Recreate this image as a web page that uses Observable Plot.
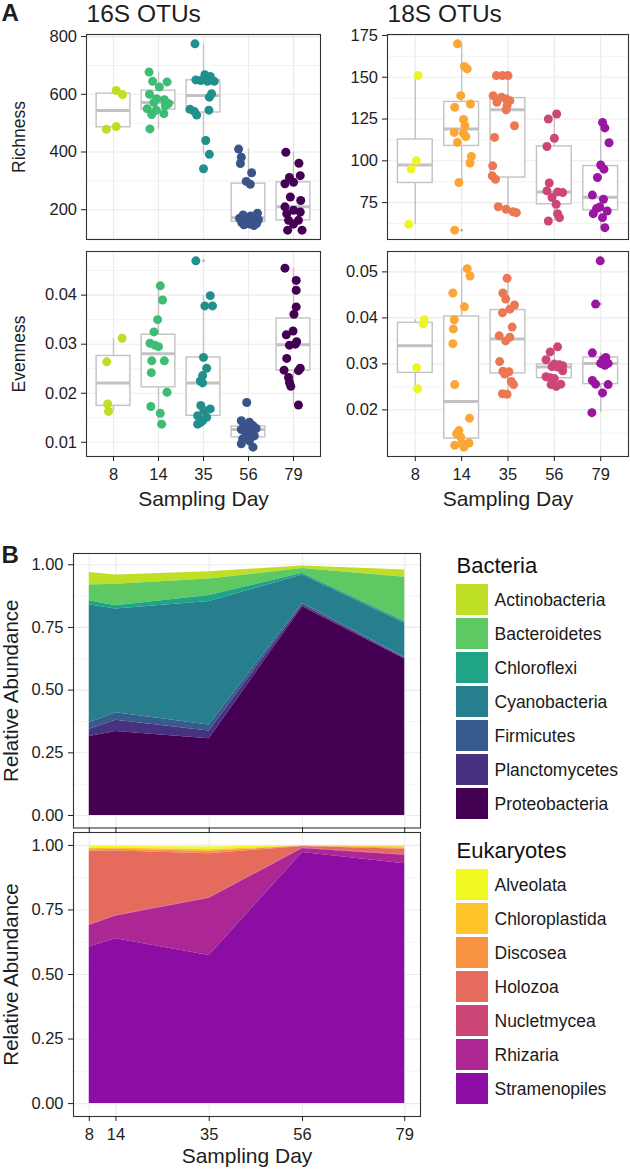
<!DOCTYPE html>
<html><head><meta charset="utf-8">
<script src="https://cdn.jsdelivr.net/npm/d3@7"></script>
<script src="https://cdn.jsdelivr.net/npm/@observablehq/plot@0.6"></script>
<style>
body{margin:0;background:#fff;}
#root{position:relative;width:630px;height:1170px;overflow:hidden;font-family:"Liberation Sans",Arial,Helvetica,sans-serif;}
#root svg{position:absolute;overflow:visible;}
</style></head><body><div id="root"></div>
<script>
// ---------- DATA ----------
const days = [8, 14, 35, 56, 79];
const dayIdx = [0, 1, 2, 3, 4];

// Panel A points: [day index, horizontal jitter, value]
const richness16S = [
  [0,0.06,613],[0,0.2,599],[0,-0.16,479],[0,0.06,488],
  [1,-0.21,677],[1,-0.13,645],[1,0.19,643],[1,0.02,625],[1,-0.2,600],[1,-0.04,585],[1,0.13,581],[1,-0.1,572],[1,0.22,568],[1,0.15,560],[1,-0.25,550],[1,-0.05,545],[1,0.12,533],[1,-0.15,530],[1,-0.19,480],
  [2,-0.19,775],[2,0.03,668],[2,0.15,662],[2,-0.17,650],[2,-0.06,648],[2,0.09,645],[2,0.24,645],[2,0.18,602],[2,0.13,590],[2,-0.3,548],[2,0.12,545],[2,-0.2,540],[2,-0.15,528],[2,0.05,440],[2,0.13,392],[2,0.0,342],
  [3,-0.22,410],[3,-0.16,382],[3,-0.18,360],[3,0.07,328],[3,-0.05,298],[3,0.04,288],[3,0.2,188],[3,-0.12,182],[3,0.05,178],[3,0.14,174],[3,-0.2,170],[3,0.0,168],[3,0.22,165],[3,-0.08,162],[3,0.1,159],[3,-0.15,155],[3,0.18,152],[3,0.03,150],[3,-0.1,148],[3,0.12,145],
  [4,-0.17,399],[4,0.12,361],[4,0.15,318],[4,-0.09,312],[4,0,295],[4,-0.19,290],[4,-0.07,244],[4,0.16,232],[4,-0.19,210],[4,0,198],[4,0.15,192],[4,-0.15,186],[4,-0.11,163],[4,0.11,163],[4,0,150],[4,-0.13,129],[4,0.19,129]
];
const richness18S = [
  [0,0.06,151],[0,0.02,100],[0,-0.09,95],[0,-0.14,62],
  [1,-0.09,170],[1,0.06,156.5],[1,0.12,155],[1,-0.02,139],[1,0.19,134],[1,-0.15,132],[1,0.04,124.7],[1,0.07,121],[1,-0.16,117],[1,0.04,116.5],[1,0.09,114.5],[1,-0.09,111],[1,0.21,102.6],[1,0.18,98.7],[1,-0.06,87],[1,-0.15,58.5],
  [2,-0.25,151],[2,-0.12,151],[2,0,151],[2,-0.32,139],[2,-0.14,138],[2,-0.04,137],[2,0.04,136],[2,-0.24,135],[2,-0.02,133],[2,-0.04,130.5],[2,0.14,121],[2,-0.29,114],[2,-0.33,97],[2,-0.34,91],[2,-0.27,89],[2,-0.21,72.5],[2,-0.04,71],[2,0.11,69.5],[2,0.18,69],
  [3,0.05,128],[3,-0.13,125],[3,0,113.5],[3,-0.16,108.6],[3,-0.11,86.7],[3,-0.16,82],[3,0.07,81.4],[3,0.18,81],[3,-0.05,78],[3,0.04,74],[3,0.07,68.4],[3,0.11,66],[3,-0.13,64],
  [4,0.04,123],[4,0.09,119.7],[4,0.18,110.8],[4,0,97.5],[4,0.07,95],[4,-0.07,90],[4,-0.18,79.5],[4,0.06,77],[4,-0.02,72.4],[4,-0.09,71.4],[4,0.14,70],[4,-0.16,68.4],[4,0.04,66],[4,0.09,60]
];
const evenness16S = [
  [0,0.19,0.0312],[0,-0.15,0.0264],[0,-0.13,0.0178],[0,-0.11,0.0163],
  [1,0.04,0.0419],[1,0.09,0.0390],[1,-0.02,0.0350],[1,-0.1,0.0325],[1,-0.19,0.0302],[1,-0.08,0.0298],[1,0.0,0.0295],[1,-0.15,0.0266],[1,0.13,0.0266],[1,-0.16,0.0242],[1,0.19,0.0202],[1,-0.17,0.0173],[1,0.04,0.0159],[1,0.07,0.0137],
  [2,-0.17,0.047],[2,0.15,0.0399],[2,0.03,0.0378],[2,0.2,0.0378],[2,0,0.0273],[2,0.07,0.0251],[2,-0.02,0.0236],[2,-0.07,0.0225],[2,-0.02,0.0221],[2,-0.06,0.0175],[2,0.15,0.0168],[2,0.01,0.0165],[2,-0.13,0.0154],[2,0.07,0.0151],[2,-0.02,0.0144],[2,-0.07,0.0140],[2,-0.13,0.0137],
  [3,-0.04,0.0181],[3,-0.16,0.0144],[3,0.02,0.0141],[3,0.1,0.0134],[3,-0.09,0.0130],[3,0.17,0.0128],[3,0,0.0127],[3,-0.16,0.0126],[3,0.06,0.0121],[3,-0.05,0.0115],[3,0.13,0.0113],[3,-0.13,0.0107],[3,0.02,0.0103],[3,-0.16,0.0097],[3,0.1,0.0090],
  [4,-0.19,0.0455],[4,0.06,0.0430],[4,0.06,0.0410],[4,0.06,0.0376],[4,0.01,0.0361],[4,-0.01,0.0327],[4,-0.16,0.0319],[4,0.07,0.0305],[4,-0.09,0.0298],[4,0.04,0.0300],[4,-0.15,0.0271],[4,0.15,0.0251],[4,-0.21,0.0247],[4,0.11,0.0246],[4,-0.11,0.0232],[4,-0.09,0.0222],[4,-0.06,0.0214],[4,0.11,0.0176]
];
const evenness18S = [
  [0,0.19,0.0396],[0,0.17,0.0387],[0,0.03,0.0292],[0,0.05,0.0246],
  [1,0.12,0.0507],[1,0.18,0.0491],[1,-0.19,0.0454],[1,0.06,0.0424],[1,-0.16,0.0396],[1,-0.18,0.0376],[1,-0.19,0.0344],[1,-0.15,0.0255],[1,0.17,0.0182],[1,-0.06,0.0155],[1,-0.11,0.0148],[1,-0.02,0.0141],[1,0.16,0.0128],[1,0.01,0.0127],[1,-0.15,0.0123],[1,0.05,0.0119],
  [2,-0.02,0.0486],[2,-0.11,0.0454],[2,-0.05,0.0441],[2,0.14,0.0428],[2,0.04,0.0419],[2,-0.12,0.0411],[2,0.09,0.0380],[2,-0.19,0.0361],[2,0.04,0.0358],[2,-0.05,0.0350],[2,-0.18,0.0305],[2,-0.11,0.0284],[2,0.02,0.0283],[2,-0.07,0.0278],[2,0.07,0.0262],[2,0.12,0.0255],[2,-0.12,0.0235],[2,-0.02,0.0234],
  [3,0.07,0.0337],[3,-0.09,0.0326],[3,-0.18,0.0309],[3,0,0.0300],[3,0.11,0.0298],[3,0.18,0.0296],[3,-0.05,0.0294],[3,0.07,0.0293],[3,0.18,0.0285],[3,-0.18,0.0272],[3,-0.09,0.0270],[3,0,0.0268],[3,0.14,0.0256],[3,-0.07,0.0255],[3,0.04,0.0251],
  [4,-0.01,0.0524],[4,-0.11,0.0430],[4,-0.18,0.0324],[4,0.11,0.0314],[4,0.05,0.0309],[4,0,0.0301],[4,0.16,0.0301],[4,0.09,0.0297],[4,-0.18,0.0264],[4,-0.11,0.0256],[4,0.16,0.0255],[4,0.04,0.0237],[4,-0.19,0.0194]
];
const colors16S = ["#bddf26", "#3dbc74", "#21908d", "#3b528b", "#440154"];
const colors18S = ["#eef527", "#fca636", "#ec7853", "#cc4778", "#9a15a1"];
const richness16STicks = [200, 400, 600, 800];
const richness18STicks = [75, 100, 125, 150, 175];
const evenness16STicks = [0.01, 0.02, 0.03, 0.04];
const evenness18STicks = [0.02, 0.03, 0.04, 0.05];

// Panel B: relative abundance per sampling day
const bacteriaTaxa = ["Actinobacteria","Bacteroidetes","Chloroflexi","Cyanobacteria","Firmicutes","Planctomycetes","Proteobacteria"];
const bacteriaColors = ["#bddf26","#5ec962","#20a486","#277f8e","#365c8d","#46327e","#440154"];
const actinobacteria = [0.050, 0.037, 0.029, 0.010, 0.029];
const bacteroidetes  = [0.063, 0.086, 0.066, 0.019, 0.176];
const chloroflexi    = [0.016, 0.013, 0.024, 0.007, 0.007];
const cyanobacteria  = [0.470, 0.413, 0.492, 0.113, 0.136];
const firmicutes     = [0.026, 0.030, 0.024, 0.006, 0.003];
const planctomycetes = [0.029, 0.045, 0.031, 0.008, 0.004];
const proteobacteria = [0.315, 0.335, 0.306, 0.832, 0.624];

const eukaryoteTaxa = ["Alveolata","Chloroplastida","Discosea","Holozoa","Nucletmycea","Rhizaria","Stramenopiles"];
const eukaryoteColors = ["#f0f921","#fdc328","#f89441","#e56b5d","#cc4678","#ac2694","#8b0da3"];
const alveolata      = [0.008, 0.006, 0.011, 0.002, 0.006];
const chloroplastida = [0.005, 0.005, 0.006, 0.001, 0.005];
const discosea       = [0.005, 0.007, 0.009, 0.001, 0.004];
const holozoa        = [0.285, 0.249, 0.171, 0.006, 0.021];
const nucletmycea    = [0.003, 0.002, 0.002, 0.002, 0.002];
const rhizaria       = [0.083, 0.089, 0.221, 0.015, 0.033];
const stramenopiles  = [0.607, 0.638, 0.574, 0.973, 0.929];

const abundanceTicks = [0, 0.25, 0.5, 0.75, 1];

// ---------- DRAWING ----------
const GRID = "#ebebeb", BOX = "#c2c2c2", INK = "#1e1e1e", BORDER = "#333";
const FONT = "'Liberation Sans', Arial, Helvetica, sans-serif";
const TICK_FS = 16.5;
const root = document.getElementById("root");
function place(svg, left, top) {
  svg.style.left = left + "px"; svg.style.top = top + "px";
  root.appendChild(svg);
}
const baseStyle = {background: "transparent", overflow: "visible", fontFamily: FONT, color: INK};

function boxPanel(o) {
  const vals = o.pts.map(p => p[2]);
  const [lo, hi] = d3.extent(vals), pad = 0.05 * (hi - lo);
  const stats = dayIdx.map(i => {
    const v = o.pts.filter(p => p[0] === i).map(p => p[2]).sort(d3.ascending);
    const q1 = d3.quantile(v, 0.25), med = d3.quantile(v, 0.5), q3 = d3.quantile(v, 0.75), r = 1.5 * (q3 - q1);
    const inside = v.filter(x => x >= q1 - r && x <= q3 + r);
    return {i, q1, med, q3, lo: d3.min(inside), hi: d3.max(inside), out: v.filter(x => x < q1 - r || x > q3 + r)};
  });
  const step = o.ticks[1] - o.ticks[0];
  const minor = [o.ticks[0] - step / 2, ...o.ticks.map(t => t + step / 2)].filter(t => t > lo - pad && t < hi + pad);
  const marks = [
    Plot.ruleY(minor, {stroke: GRID, strokeWidth: 0.6}),
    Plot.ruleY(o.ticks, {stroke: GRID, strokeWidth: 1.1}),
    Plot.ruleX(dayIdx, {stroke: GRID, strokeWidth: 1.1}),
    Plot.ruleX(stats, {x: "i", y1: "lo", y2: "q1", stroke: BOX, strokeWidth: 1.4}),
    Plot.ruleX(stats, {x: "i", y1: "q3", y2: "hi", stroke: BOX, strokeWidth: 1.4}),
    Plot.rect(stats, {x1: d => d.i - 0.375, x2: d => d.i + 0.375, y1: "q1", y2: "q3", fill: "white", stroke: BOX, strokeWidth: 1.4}),
    Plot.ruleY(stats, {x1: d => d.i - 0.375, x2: d => d.i + 0.375, y: "med", stroke: BOX, strokeWidth: 3}),
    Plot.dot(stats.flatMap(s => s.out.map(v => ({i: s.i, v}))), {x: "i", y: "v", r: 1.3, fill: "#aaa"}),
    Plot.dot(o.pts, {x: p => p[0] + p[1], y: p => p[2], r: 4.5, fill: p => o.colors[p[0]]}),
    Plot.frame({stroke: BORDER, strokeWidth: 1.1}),
    Plot.axisY(o.ticks, {tickSize: 5, tickPadding: 4.5, fontSize: TICK_FS, tickFormat: o.fmt, label: null, color: INK})
  ];
  if (o.showX) {
    marks.push(Plot.axisX(dayIdx, {tickSize: 5, tickPadding: 6.5, fontSize: TICK_FS, tickFormat: i => days[i], label: null, color: INK}));
    marks.push(Plot.text(["Sampling Day"], {text: d => d, frameAnchor: "bottom", dy: 43, fontSize: 21, textAnchor: "middle", lineAnchor: "middle"}));
  }
  if (o.ylabel) marks.push(Plot.text([o.ylabel], {text: d => d, frameAnchor: "left", dx: o.ylabelX - o.mL, rotate: -90, fontSize: 17.5, textAnchor: "middle", lineAnchor: "middle"}));
  if (o.title) marks.push(Plot.text([o.title], {text: d => d, frameAnchor: "top-left", dy: -13, fontSize: 24.5, textAnchor: "start", lineAnchor: "bottom"}));
  if (o.letter) marks.push(Plot.text([o.letter], {text: d => d, frameAnchor: "top-left", dx: 1 - o.mL, dy: -14, fontSize: 24, fontWeight: "bold", textAnchor: "start", lineAnchor: "bottom"}));
  const svg = Plot.plot({
    width: o.width, height: o.height,
    marginLeft: o.mL, marginRight: o.mR, marginTop: o.mT, marginBottom: o.mB,
    x: {domain: [-0.6, 4.6], axis: null},
    y: {domain: [lo - pad, hi + pad], axis: null},
    color: {type: "identity"},
    style: baseStyle,
    marks
  });
  place(svg, o.left, o.top);
}

// Panel A layout
boxPanel({pts: richness16S, colors: colors16S, ticks: richness16STicks, fmt: d3.format("d"),
  left: 0, top: 0, width: 322, height: 240, mL: 86, mR: 2, mT: 34, mB: 1,
  ylabel: "Richness", ylabelX: 19, title: "16S OTUs", letter: "A"});
boxPanel({pts: richness18S, colors: colors18S, ticks: richness18STicks, fmt: d3.format("d"),
  left: 310, top: 0, width: 320, height: 240, mL: 77, mR: 2, mT: 34, mB: 1,
  title: "18S OTUs"});
boxPanel({pts: evenness16S, colors: colors16S, ticks: evenness16STicks, fmt: d3.format(".2f"),
  left: 0, top: 245, width: 322, height: 275, mL: 86, mR: 2, mT: 6, mB: 64,
  ylabel: "Evenness", ylabelX: 19, showX: true});
boxPanel({pts: evenness18S, colors: colors18S, ticks: evenness18STicks, fmt: d3.format(".2f"),
  left: 310, top: 245, width: 320, height: 275, mL: 77, mR: 2, mT: 6, mB: 64, showX: true});

// Panel B
function areaPanel(o) {
  const long = o.taxa.flatMap((t, k) => days.map((d, j) => ({day: d, taxon: t, value: o.series[k][j]})));
  const minor = abundanceTicks.slice(1).map(t => t - 0.125);
  const marks = [
    Plot.ruleY(minor, {stroke: GRID, strokeWidth: 0.6}),
    Plot.ruleY(abundanceTicks, {stroke: GRID, strokeWidth: 1.1}),
    Plot.ruleX(days, {stroke: GRID, strokeWidth: 1.1}),
    Plot.areaY(long, {x: "day", y: "value", fill: "taxon", order: [...o.taxa].reverse()}),
    Plot.frame({stroke: BORDER, strokeWidth: 1.1}),
    Plot.axisY(abundanceTicks, {tickSize: 5, tickPadding: 5, fontSize: TICK_FS, tickFormat: d3.format(".2f"), label: null, color: INK}),
    Plot.axisX(days, {tickSize: 5, tickPadding: 6.5, fontSize: TICK_FS, tickFormat: o.showX ? (d => d) : (() => ""), label: null, color: INK}),
    Plot.text(["Relative Abundance"], {text: d => d, frameAnchor: "left", dx: 10.5 - 73, rotate: -90, fontSize: 20.5, textAnchor: "middle", lineAnchor: "middle"})
  ];
  if (o.showX) marks.push(Plot.text(["Sampling Day"], {text: d => d, frameAnchor: "bottom", dy: 40, fontSize: 21, textAnchor: "middle", lineAnchor: "middle"}));
  if (o.letter) marks.push(Plot.text([o.letter], {text: d => d, frameAnchor: "top-left", dx: -72, dy: 9.7, fontSize: 24, fontWeight: "bold", textAnchor: "start", lineAnchor: "bottom"}));
  const svg = Plot.plot({
    width: 422, height: o.height,
    marginLeft: 73, marginRight: 2, marginTop: o.mT, marginBottom: o.mB,
    x: {domain: [4.45, 82.55], axis: null},
    y: {domain: o.yDomain, axis: null},
    color: {domain: o.taxa, range: o.colors, type: "ordinal"},
    style: baseStyle,
    marks
  });
  place(svg, 0, o.top);
}
areaPanel({taxa: bacteriaTaxa, colors: bacteriaColors,
  series: [actinobacteria, bacteroidetes, chloroflexi, cyanobacteria, firmicutes, planctomycetes, proteobacteria],
  top: 520, height: 312, mT: 33, mB: 4.5, yDomain: [-0.04975, 1.04475], letter: "B"});
areaPanel({taxa: eukaryoteTaxa, colors: eukaryoteColors,
  series: [alveolata, chloroplastida, discosea, holozoa, nucletmycea, rhizaria, stramenopiles],
  top: 820, height: 350, mT: 12, mB: 54, yDomain: [-0.05, 1.05], showX: true});

// Legends
function legendPanel(title, taxa, colors, top) {
  const svg = Plot.plot({
    width: 174, height: 290, marginLeft: 0, marginRight: 142, marginTop: 38, marginBottom: 12,
    y: {domain: taxa, type: "band", paddingInner: 0.1, paddingOuter: 0.05, axis: null},
    color: {domain: taxa, range: colors, type: "ordinal"},
    style: baseStyle,
    marks: [
      Plot.cell(taxa, {y: d => d, fill: d => d}),
      Plot.text(taxa, {y: d => d, text: d => d, frameAnchor: "right", dx: 6, textAnchor: "start", fontSize: 17.5, fill: "#1a1a1a"}),
      Plot.text([title], {text: d => d, frameAnchor: "top-left", dy: -8.5, fontSize: 22, textAnchor: "start", lineAnchor: "bottom", fill: "#111"})
    ]
  });
  place(svg, 456, top);
}
legendPanel("Bacteria", bacteriaTaxa, bacteriaColors, 543.3);
legendPanel("Eukaryotes", eukaryoteTaxa, eukaryoteColors, 828.3);
</script></body></html>
